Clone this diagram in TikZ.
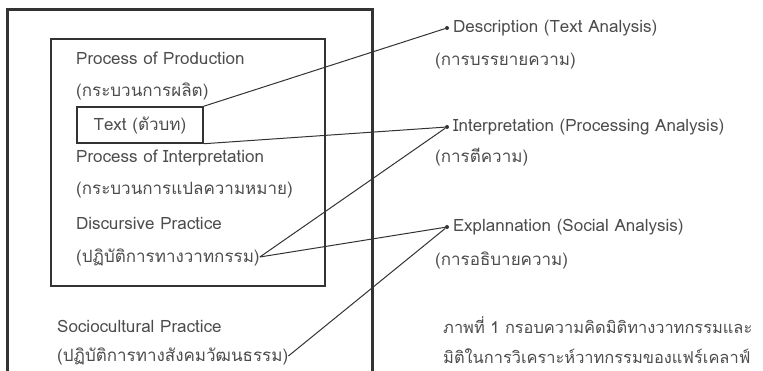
\documentclass[tikz,border=0pt]{standalone}
\usepackage{fontspec}
\setmainfont[Script=Thai]{Loma}
\usetikzlibrary{positioning,calc}
\begin{document}
\begin{tikzpicture}[x=1pt,y=-1pt,auto]

    \tikzstyle{commonNode}=[font=\fontsize{17}{19}\selectfont, text=black!70, inner sep=0pt]
    \tikzstyle{plainText}=[commonNode, anchor=west]
    \tikzstyle{captionText}=[plainText, font=\fontsize{16.4}{19}\selectfont]
    \tikzstyle{textBox}=[commonNode, draw=black!80, line width=1.5pt, minimum width=126pt, minimum height=36pt]
    \tikzstyle{endDot}=[circle, fill=black!80, inner sep=0pt, minimum size=4pt]
    \tikzstyle{connector}=[draw=black!80, line width=1pt]

    \useasboundingbox (0,0) rectangle (763,371);

    % Frames
    \draw[black!80, line width=3pt] (7,371) -- (7,10) -- (372,10) -- (372,371);
    \draw[black!80, line width=1.5pt] (51,39) rectangle (325,286);

    % Left column
    \def \lx {76}
    \node at (\lx, 58)  [plainText] (PP)   {Process of Production};
    \node at (\lx, 91)  [plainText] (PPth) {(กระบวนการผลิต)};
    \node at (140, 125) [textBox]   (T)    {Text (ตัวบท)};
    \node at (\lx, 158) [plainText] (PI)   {Process of Interpretation};
    \node at (\lx, 190) [plainText] (PIth) {(กระบวนการแปลความหมาย)};
    \node at (\lx, 223) [plainText] (DP)   {Discursive Practice};
    \node at (\lx, 257) [plainText] (DPth) {(ปฏิบัติการทางวาทกรรม)};
    \node at (57, 326)  [plainText] (SP)   {Sociocultural Practice};
    \node at (57, 356)  [plainText] (SPth) {(ปฏิบัติการทางสังคมวัฒนธรรม)};

    % Right column
    \def \dx {447}
    \node at (\dx, 28)  [endDot] (DE) {};
    \node at (\dx, 127) [endDot] (IN) {};
    \node at (\dx, 227) [endDot] (EX) {};
    \node at (\dx+6, 28)  [plainText] (DEl)  {Description (Text Analysis)};
    \node at (435, 61)    [plainText] (DEth) {(การบรรยายความ)};
    \node at (\dx+6, 127) [plainText] (INl)  {Interpretation (Processing Analysis)};
    \node at (435, 157)   [plainText] (INth) {(การตีความ)};
    \node at (\dx+6, 227) [plainText] (EXl)  {Explannation (Social Analysis)};
    \node at (435, 260)   [plainText] (EXth) {(การอธิบายความ)};

    % Caption
    \node at (443, 325) [captionText] (CA1) {ภาพที่ 1 กรอบความคิดมิติทางวาทกรรมและ};
    \node at (443, 356) [captionText] (CA2) {มิติในการวิเคราะห์วาทกรรมของแฟร์เคลาฟ์};

    % Connectors
    \draw[connector] (T.north east) -- (DE);
    \draw[connector] (T.south east) -- (IN);
    \draw[connector] (DPth.east) -- (IN);
    \draw[connector] (DPth.east) -- (EX);
    \draw[connector] (SPth.east) -- (EX);
\end{tikzpicture}
\end{document}
